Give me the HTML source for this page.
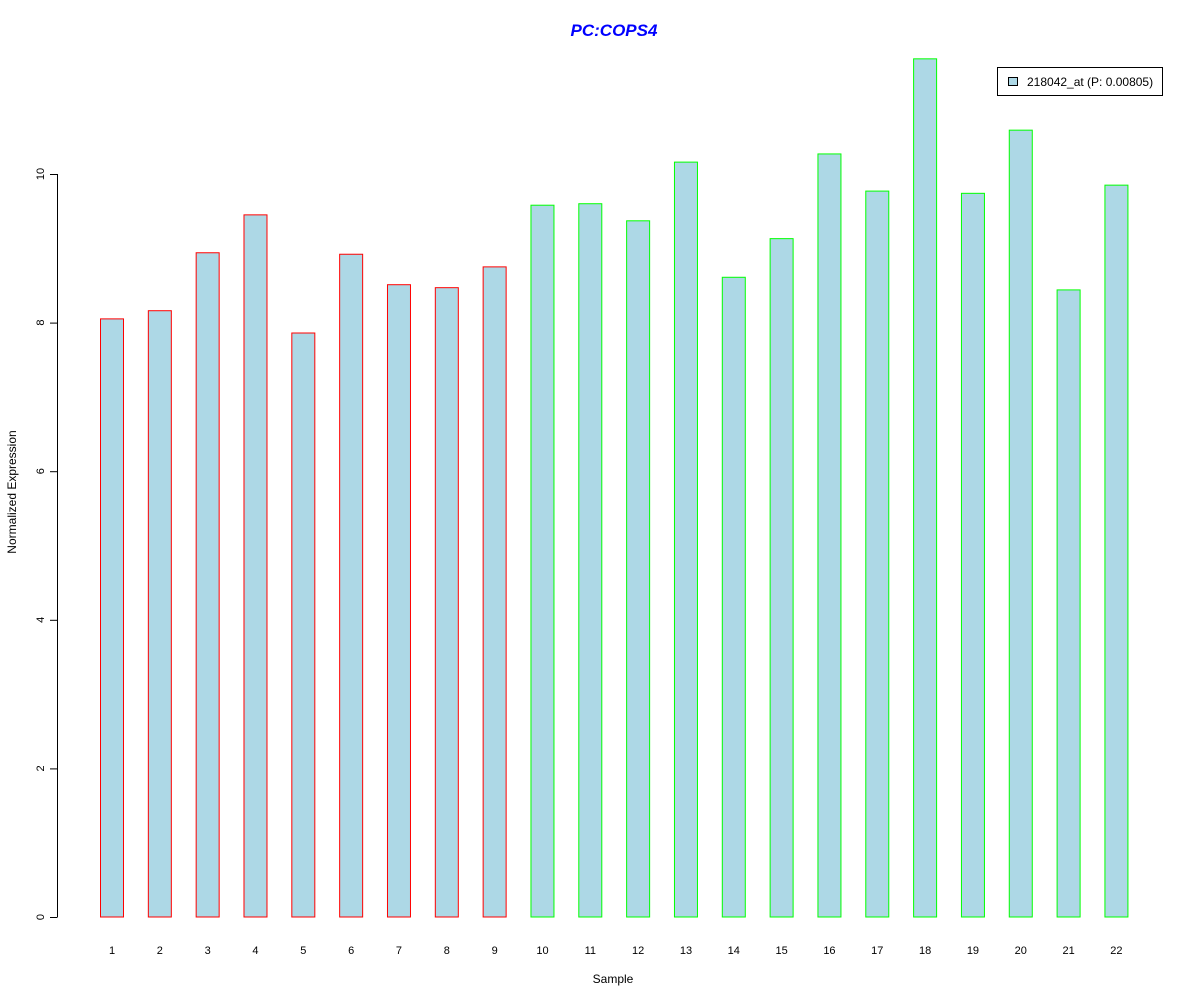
<!DOCTYPE html>
<html><head><meta charset="utf-8"><style>
body{margin:0;background:#fff}
svg text{font-family:"Liberation Sans",Arial,sans-serif}
</style></head><body>
<svg id="chart" width="1200" height="1000" xmlns="http://www.w3.org/2000/svg">
<rect width="1200" height="1000" fill="#fff"/>
<text x="614" y="36" text-anchor="middle" font-size="17" font-weight="bold" font-style="italic" fill="#0000ff">PC:COPS4</text>
<g id="yaxis"></g>
<g id="bars"></g>
<g id="xlabels"></g>
<text x="613" y="983" text-anchor="middle" font-size="12">Sample</text>
<text transform="translate(16,492) rotate(-90)" text-anchor="middle" font-size="12">Normalized Expression</text>
<g>
<rect x="997.5" y="67.5" width="165" height="28" fill="#fff" stroke="#000"/>
<rect x="1008.5" y="77.5" width="9" height="8" fill="#add8e6" stroke="#000"/>
<text x="1027" y="86" font-size="12">218042_at (P: 0.00805)</text>
</g>
</svg>
<script>
const categories = ["1","2","3","4","5","6","7","8","9","10","11","12","13","14","15","16","17","18","19","20","21","22"];
const values = [8.05,8.16,8.94,9.45,7.86,8.92,8.51,8.47,8.75,9.58,9.60,9.37,10.16,8.61,9.13,10.27,9.77,11.55,9.74,10.59,8.44,9.85];
const groups = ["a","a","a","a","a","a","a","a","a","b","b","b","b","b","b","b","b","b","b","b","b","b"];
const yTicks = [0,2,4,6,8,10];
const NS="http://www.w3.org/2000/svg";
const y = v => 917 - v*74.3;
const x = i => 112 + i*47.83;
function mk(tag, attrs, parent){const e=document.createElementNS(NS,tag);for(const k in attrs)e.setAttribute(k,attrs[k]);parent.appendChild(e);return e;}
const ya=document.getElementById('yaxis');
const axisLine=mk('line',{x1:57.5,x2:57.5,y1:y(0),y2:y(yTicks[yTicks.length-1]),stroke:'#000'},ya);


yTicks.forEach(t=>{
  const l=mk('line',{x1:50,x2:57.5,y1:y(t)+0.5,y2:y(t)+0.5,stroke:'#000'},ya);
  
  
  const tx=mk('text',{transform:`translate(44,${y(t)}) rotate(-90)`,'text-anchor':'middle','font-size':11},ya);
  tx.textContent=t;
  
  
});
const bg=document.getElementById('bars'), xl=document.getElementById('xlabels');
values.forEach((v,i)=>{
  const r=mk('rect',{x:x(i)-11.5,y:y(v),width:23,height:y(0)-y(v),fill:'#add8e6',stroke:groups[i]==='a'?'#ff0000':'#00ff00'},bg);
  
  
  const t=mk('text',{x:x(i),y:954,'text-anchor':'middle','font-size':11},xl);
  t.textContent=categories[i];
  
  
});
</script>
</body></html>
